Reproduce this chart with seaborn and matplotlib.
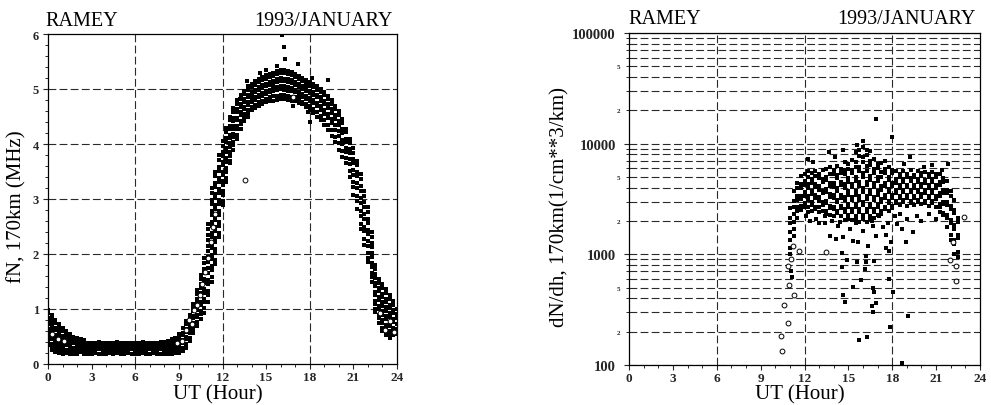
import numpy as np
import pandas as pd
import matplotlib
matplotlib.use("Agg")
import matplotlib.pyplot as plt
from matplotlib.ticker import FixedLocator, MultipleLocator, LogLocator, FuncFormatter
import seaborn as sns

sns.set_style("ticks")
plt.rcParams["font.family"] = ["Liberation Serif", "DejaVu Serif"]

# ---------------------------------------------------------------- text
station = "RAMEY"
period = "1993/JANUARY"
x_label = "UT (Hour)"
fn_label = "fN, 170km (MHz)"
dndh_label = "dN/dh, 170km(1/cm**3/km)"

# ---------------------------------------------------------------- axes
hour_ticks = [0, 3, 6, 9, 12, 15, 18, 21, 24]
grid_hours = [6, 12, 18]
fn_ticks = [0, 1, 2, 3, 4, 5, 6]
fn_grid = [1, 2, 3, 4, 5]
dndh_ticks = [100, 1000, 10000, 100000]

# ---------------------------------------------------------------- fN at 170 km (MHz), readings of the whole month per 15-minute slot
fn_hours = [
    0.00, 0.25, 0.50, 0.75, 1.00, 1.25, 1.50, 1.75, 2.00, 2.25, 2.50, 2.75,
    3.00, 3.25, 3.50, 3.75, 4.00, 4.25, 4.50, 4.75, 5.00, 5.25, 5.50, 5.75,
    6.00, 6.25, 6.50, 6.75, 7.00, 7.25, 7.50, 7.75, 8.00, 8.25, 8.50, 8.75,
    9.00, 9.25, 9.50, 9.75, 10.00, 10.25, 10.50, 10.75, 11.00, 11.25, 11.50, 11.75,
    12.00, 12.25, 12.50, 12.75, 13.00, 13.25, 13.50, 13.75, 14.00, 14.25, 14.50, 14.75,
    15.00, 15.25, 15.50, 15.75, 16.00, 16.25, 16.50, 16.75, 17.00, 17.25, 17.50, 17.75,
    18.00, 18.25, 18.50, 18.75, 19.00, 19.25, 19.50, 19.75, 20.00, 20.25, 20.50, 20.75,
    21.00, 21.25, 21.50, 21.75, 22.00, 22.25, 22.50, 22.75, 23.00, 23.25, 23.50, 23.75,
    24.00,
]
fn_values = [
    [0.98, 0.92, 0.84, 0.78, 0.72, 0.64, 0.59, 0.51, 0.47, 0.40, 0.34],
    [0.90, 0.82, 0.77, 0.69, 0.64, 0.56, 0.50, 0.45, 0.37, 0.32, 0.25],
    [0.80, 0.74, 0.66, 0.61, 0.53, 0.48, 0.40, 0.35, 0.27, 0.21],
    [0.72, 0.65, 0.60, 0.52, 0.45, 0.40, 0.32, 0.27, 0.20],
    [0.65, 0.60, 0.51, 0.46, 0.38, 0.33, 0.25, 0.19],
    [0.60, 0.52, 0.48, 0.40, 0.34, 0.26, 0.20],
    [0.55, 0.50, 0.42, 0.37, 0.29, 0.24, 0.19],
    [0.50, 0.43, 0.38, 0.30, 0.25, 0.19],
    [0.47, 0.42, 0.34, 0.29, 0.23, 0.19],
    [0.45, 0.38, 0.33, 0.26, 0.21],
    [0.43, 0.37, 0.30, 0.25, 0.19],
    [0.39, 0.33, 0.26, 0.19],
    [0.38, 0.32, 0.25, 0.19],
    [0.39, 0.33, 0.26, 0.20],
    [0.40, 0.33, 0.27, 0.19],
    [0.38, 0.31, 0.25, 0.19],
    [0.39, 0.32, 0.26, 0.19],
    [0.38, 0.33, 0.25, 0.20],
    [0.39, 0.32, 0.26, 0.19],
    [0.40, 0.34, 0.27, 0.20],
    [0.38, 0.31, 0.25, 0.19],
    [0.39, 0.33, 0.26, 0.19],
    [0.38, 0.32, 0.25, 0.20],
    [0.39, 0.33, 0.27, 0.19],
    [0.38, 0.31, 0.26, 0.19],
    [0.39, 0.32, 0.25, 0.19],
    [0.40, 0.33, 0.26, 0.20],
    [0.38, 0.32, 0.25, 0.19],
    [0.39, 0.33, 0.27, 0.19],
    [0.38, 0.31, 0.25, 0.20],
    [0.39, 0.33, 0.26, 0.19],
    [0.40, 0.34, 0.27, 0.19],
    [0.40, 0.33, 0.26, 0.19],
    [0.42, 0.36, 0.29, 0.23, 0.19],
    [0.45, 0.38, 0.32, 0.25, 0.19],
    [0.48, 0.42, 0.34, 0.28, 0.20],
    [0.55, 0.49, 0.41, 0.35, 0.27, 0.20],
    [0.65, 0.57, 0.52, 0.44, 0.38, 0.30, 0.23],
    [0.78, 0.72, 0.64, 0.58, 0.50, 0.45, 0.37, 0.30],
    [0.90, 0.84, 0.76, 0.70, 0.61, 0.56, 0.48, 0.41],
    [1.10, 1.02, 0.97, 0.88, 0.83, 0.75, 0.69, 0.61, 0.56],
    [1.35, 1.28, 1.19, 1.13, 1.04, 0.99, 0.90, 0.85, 0.76, 0.70],
    [1.62, 1.55, 1.45, 1.39, 1.29, 1.23, 1.13, 1.07, 0.97, 0.91, 0.82],
    [1.92, 1.84, 1.73, 1.66, 1.55, 1.48, 1.37, 1.30, 1.19, 1.12, 1.01, 0.93],
    [2.55, 2.46, 2.34, 2.26, 2.14, 2.06, 1.94, 1.86, 1.74, 1.65, 1.53, 1.45, 1.33, 1.25, 1.13],
    [3.20, 3.11, 2.99, 2.91, 2.79, 2.71, 2.59, 2.51, 2.39, 2.31, 2.19, 2.11, 1.99, 1.91, 1.79, 1.71, 1.59, 1.50],
    [3.50, 3.41, 3.29, 3.21, 3.09, 3.01, 2.89, 2.81, 2.69, 2.61, 2.49, 2.41, 2.29, 2.21, 2.09, 2.01, 1.90, 1.82],
    [3.80, 3.71, 3.59, 3.51, 3.39, 3.31, 3.19, 3.11, 2.99, 2.91, 2.79, 2.71, 2.59, 2.51, 2.39, 2.31],
    [4.05, 3.97, 3.86, 3.79, 3.68, 3.61, 3.50, 3.43, 3.32, 3.25, 3.14, 3.07, 2.97, 2.90],
    [4.30, 4.22, 4.11, 4.04, 3.93, 3.86, 3.75, 3.68, 3.57, 3.50, 3.39, 3.31],
    [4.50, 4.43, 4.33, 4.27, 4.17, 4.11, 4.01, 3.95, 3.85, 3.79, 3.70, 3.65],
    [4.65, 4.58, 4.48, 4.42, 4.33, 4.27, 4.18, 4.12, 4.03, 3.98, 3.90],
    [4.80, 4.73, 4.63, 4.58, 4.48, 4.43, 4.33, 4.27, 4.17, 4.10],
    [4.90, 4.83, 4.73, 4.68, 4.58, 4.52, 4.42, 4.36, 4.27],
    [4.97, 4.91, 4.82, 4.77, 4.68, 4.63, 4.54, 4.49, 4.41],
    [5.05, 4.99, 4.90, 4.85, 4.76, 4.71, 4.62, 4.57, 4.50],
    [5.10, 5.04, 4.95, 4.90, 4.81, 4.76, 4.67, 4.61],
    [5.14, 5.08, 4.99, 4.94, 4.85, 4.80, 4.71, 4.65],
    [5.18, 5.12, 5.03, 4.98, 4.89, 4.85, 4.76, 4.70],
    [5.22, 5.16, 5.07, 5.02, 4.93, 4.88, 4.79, 4.73],
    [5.25, 5.19, 5.10, 5.05, 4.96, 4.91, 4.82, 4.76],
    [5.28, 5.22, 5.13, 5.08, 4.99, 4.94, 4.85, 4.78],
    [5.30, 5.24, 5.15, 5.10, 5.01, 4.96, 4.87, 4.79],
    [5.33, 5.27, 5.18, 5.13, 5.04, 4.98, 4.88, 4.80],
    [5.35, 5.29, 5.20, 5.15, 5.06, 5.00, 4.90, 4.82],
    [5.35, 5.29, 5.19, 5.14, 5.05, 4.99, 4.89, 4.81],
    [5.33, 5.27, 5.18, 5.13, 5.03, 4.97, 4.87, 4.80],
    [5.31, 5.25, 5.16, 5.11, 5.01, 4.96, 4.86, 4.79],
    [5.28, 5.22, 5.13, 5.08, 4.99, 4.94, 4.85, 4.78],
    [5.24, 5.18, 5.09, 5.04, 4.95, 4.90, 4.81, 4.75],
    [5.20, 5.14, 5.05, 5.00, 4.91, 4.86, 4.77, 4.72],
    [5.16, 5.10, 5.01, 4.96, 4.87, 4.82, 4.73, 4.67],
    [5.12, 5.06, 4.97, 4.92, 4.83, 4.78, 4.69, 4.62],
    [5.09, 5.03, 4.94, 4.89, 4.80, 4.74, 4.64, 4.56],
    [5.05, 4.99, 4.90, 4.85, 4.75, 4.69, 4.58, 4.50],
    [5.00, 4.94, 4.85, 4.79, 4.69, 4.62, 4.51, 4.43],
    [4.95, 4.89, 4.79, 4.73, 4.62, 4.55, 4.44, 4.35],
    [4.88, 4.82, 4.72, 4.66, 4.55, 4.48, 4.35, 4.25],
    [4.80, 4.73, 4.63, 4.57, 4.46, 4.38, 4.25, 4.15],
    [4.70, 4.63, 4.53, 4.46, 4.35, 4.26, 4.13, 4.03],
    [4.60, 4.53, 4.42, 4.35, 4.23, 4.14, 4.01, 3.90],
    [4.45, 4.38, 4.27, 4.20, 4.08, 4.00, 3.87, 3.77],
    [4.28, 4.21, 4.10, 4.03, 3.92, 3.85, 3.74, 3.66],
    [4.10, 4.02, 3.91, 3.84, 3.72, 3.64, 3.51, 3.40],
    [3.92, 3.84, 3.73, 3.65, 3.53, 3.44, 3.31, 3.21, 3.08],
    [3.70, 3.62, 3.50, 3.42, 3.29, 3.20, 3.06, 2.96, 2.82],
    [3.45, 3.36, 3.24, 3.15, 3.02, 2.93, 2.79, 2.69, 2.54, 2.45],
    [3.15, 3.06, 2.94, 2.85, 2.72, 2.63, 2.50, 2.41, 2.27, 2.16],
    [2.85, 2.76, 2.64, 2.56, 2.44, 2.36, 2.23, 2.14, 2.01, 1.93, 1.85],
    [2.40, 2.31, 2.20, 2.13, 2.02, 1.95, 1.84, 1.77, 1.66, 1.59, 1.50],
    [1.80, 1.73, 1.63, 1.57, 1.47, 1.41, 1.31, 1.25, 1.15, 1.09, 1.00, 0.95],
    [1.55, 1.48, 1.38, 1.32, 1.22, 1.16, 1.06, 1.00, 0.90, 0.84, 0.75],
    [1.45, 1.38, 1.28, 1.22, 1.12, 1.06, 0.96, 0.90, 0.80, 0.74, 0.65, 0.60],
    [1.36, 1.29, 1.19, 1.13, 1.03, 0.97, 0.87, 0.81, 0.71, 0.65, 0.56, 0.52],
    [1.25, 1.18, 1.08, 1.02, 0.92, 0.86, 0.76, 0.70, 0.60, 0.55, 0.48],
    [1.15, 1.08, 0.98, 0.92, 0.82, 0.76, 0.66, 0.60, 0.52],
    [1.00, 0.91, 0.83, 0.72, 0.64, 0.55],
]

# isolated fN readings away from the main band
fn_extra_hours = [16.10, 16.20, 16.30, 15.73, 17.20, 18.14, 19.26, 13.67, 13.20, 16.87, 17.90, 18.00, 14.60, 15.00]
fn_extra_values = [5.98, 5.76, 5.55, 5.42, 5.45, 5.20, 5.16, 5.15, 4.82, 4.70, 4.58, 4.40, 5.30, 5.35]

# fN readings drawn as open symbols
fn_open_hours = [13.55, 16.87, 9.50, 9.70, 9.90, 10.05, 10.25, 10.45, 10.60, 10.80, 11.00, 11.20,
                 11.35, 11.50, 0.30, 0.70, 1.10, 23.20, 23.50, 23.80, 22.80, 9.20, 8.90]
fn_open_values = [3.35, 4.85, 0.62, 0.80, 0.72, 0.98, 1.08, 1.25, 1.45, 1.68, 1.92, 2.22,
                  2.50, 2.72, 0.55, 0.45, 0.42, 0.62, 0.78, 0.58, 0.92, 0.42, 0.38]

# ---------------------------------------------------------------- dN/dh at 170 km (1/cm**3/km), per 15-minute slot
dndh_hours = [
    11.00, 11.25, 11.50, 11.75, 12.00, 12.25, 12.50, 12.75, 13.00, 13.25, 13.50, 13.75,
    14.00, 14.25, 14.50, 14.75, 15.00, 15.25, 15.50, 15.75, 16.00, 16.25, 16.50, 16.75,
    17.00, 17.25, 17.50, 17.75, 18.00, 18.25, 18.50, 18.75, 19.00, 19.25, 19.50, 19.75,
    20.00, 20.25, 20.50, 20.75, 21.00, 21.25, 21.50, 21.75, 22.00, 22.25, 22.50,
]
dndh_values = [
    [2600, 2150, 1900, 1600, 1350, 1150, 1000],
    [3700, 3050, 2700, 2300, 1950, 1700, 1450],
    [4400, 4000, 3400, 3100, 2650, 2450, 2150],
    [5100, 4300, 3950, 3350, 3150, 2750, 2500],
    [5350, 4600, 4250, 3650, 3350, 2900, 2650],
    [5700, 5050, 4300, 3950, 3400, 3100, 2650, 2400],
    [5400, 4750, 4450, 3750, 3500, 2950, 2800, 2450],
    [5650, 5150, 4350, 4050, 3450, 3200, 2700, 2550],
    [5300, 4900, 4150, 3850, 3300, 3050, 2650, 2400],
    [5750, 4800, 4500, 3750, 3550, 2950, 2800, 2450],
    [5900, 5000, 4650, 3900, 3650, 3050, 2900, 2450, 2300],
    [6150, 5350, 4450, 4150, 3500, 3300, 2750, 2600, 2250],
    [5800, 5300, 4450, 4100, 3450, 3250, 2700, 2550, 2200],
    [6250, 5200, 4850, 4000, 3750, 3100, 2950, 2450, 2350],
    [5950, 5450, 4500, 4200, 3450, 3250, 2750, 2600, 2200],
    [6900, 5750, 5300, 4300, 4000, 3300, 3100, 2550, 2400, 2050],
    [6500, 5950, 4850, 4500, 3700, 3450, 2850, 2700, 2250, 2150],
    [7100, 5800, 5400, 4350, 4050, 3300, 3100, 2550, 2400, 2050],
    [8400, 6800, 6200, 4950, 4600, 3700, 3450, 2850, 2700, 2200, 2100],
    [8700, 7700, 6200, 5650, 4500, 4150, 3350, 3100, 2550, 2400, 1950],
    [9400, 7600, 6900, 5450, 5000, 3950, 3650, 2950, 2800, 2250, 2100],
    [8700, 7850, 6300, 5700, 4550, 4200, 3400, 3150, 2550, 2400, 1950],
    [8600, 7000, 6400, 5150, 4700, 3800, 3500, 2850, 2700, 2200, 2100],
    [7200, 5900, 5400, 4400, 4100, 3300, 3100, 2550, 2400, 2150],
    [6600, 6050, 4950, 4600, 3700, 3450, 2850, 2700, 2250],
    [6700, 5500, 5050, 4150, 3850, 3150, 2950, 2450, 2300],
    [5850, 5400, 4450, 4150, 3450, 3250, 2700, 2550],
    [6100, 5050, 4700, 3900, 3650, 3050, 2900, 2450],
    [5800, 5400, 4450, 4150, 3450, 3250, 2750, 2600],
    [5650, 4750, 4450, 3800, 3600, 3050, 2900],
    [5300, 5000, 4250, 4000, 3400, 3250, 2800],
    [5700, 4800, 4550, 3850, 3650, 3100, 2950],
    [5350, 5050, 4250, 4050, 3450, 3250, 2750],
    [5750, 4850, 4600, 3850, 3650, 3050, 2900],
    [5250, 4950, 4200, 4000, 3400, 3200, 2800],
    [5650, 4750, 4500, 3850, 3650, 3100, 2950],
    [5400, 5100, 4300, 4100, 3500, 3300, 2850],
    [5600, 4700, 4450, 3800, 3550, 3050, 2900],
    [5350, 5050, 4250, 4000, 3400, 3250, 2750],
    [5600, 4750, 4500, 3800, 3600, 3050, 2900],
    [5300, 5000, 4200, 3950, 3350, 3150, 2700],
    [5350, 4500, 4250, 3600, 3400, 2850, 2700, 2400],
    [4850, 4550, 3850, 3600, 3000, 2850, 2350, 2250],
    [4600, 3850, 3600, 2950, 2800, 2250, 2150, 1750],
    [3700, 3400, 2750, 2550, 2050, 1900, 1500, 1350],
    [3100, 2500, 2350, 1850, 1700, 1350, 1250, 1000],
    [2150, 1950, 1500, 1400, 1050, 950],
]

# dN/dh readings above the main band
dndh_high_hours = [16.87, 17.99, 16.00, 13.67, 14.63, 12.23, 21.79, 19.20, 20.75, 12.60, 14.10, 15.60, 17.50, 18.80, 20.20, 21.40]
dndh_high_values = [16700, 11500, 10600, 8400, 8700, 7300, 6500, 7500, 6430, 6800, 7600, 9800, 7000, 6600, 6200, 5800]

# dN/dh readings just under the main band
dndh_mid_hours = [12.80, 13.00, 13.40, 13.90, 14.30, 15.00, 15.50, 16.60, 17.10, 17.70, 18.20, 18.50, 19.00, 19.70, 20.00, 20.50, 21.00, 12.10, 12.40,
                  13.72, 14.18, 14.63, 15.32, 15.66, 16.35, 16.92, 17.60, 17.94, 18.93, 19.43, 15.09, 16.00, 16.69, 18.30, 18.65, 14.40, 13.37, 17.37]
dndh_mid_values = [2100, 1900, 2200, 2000, 1800, 2100, 1900, 2000, 2200, 1900, 2200, 2300, 2100, 2200, 2000, 2300, 2100, 2200, 2000,
                   1470, 1390, 1440, 1320, 1280, 1200, 1470, 1490, 1280, 1280, 1580, 1690, 1630, 1800, 1870, 1690, 1950, 1930, 1750]

# dN/dh readings well below the band
dndh_low_hours = [14.59, 14.93, 14.59, 15.60, 16.17, 16.20, 16.23, 16.75, 15.89, 15.32, 14.63, 14.75, 16.69, 16.74,
                  16.92, 16.64, 16.69, 15.73, 16.30, 17.79, 18.06, 17.88, 19.09, 18.68, 17.79, 17.60, 11.15, 11.09]
dndh_low_values = [1030, 890, 770, 850, 740, 860, 960, 870, 590, 510, 425, 370, 500, 460,
                   360, 340, 300, 168, 180, 600, 460, 220, 280, 104, 1070, 1150, 630, 710]

# dN/dh readings drawn as open symbols
dndh_open_hours = [10.47, 10.40, 10.88, 10.63, 11.30, 10.97, 10.88, 11.61, 13.49, 22.93, 21.95, 22.36, 22.36, 22.17, 11.05, 11.20]
dndh_open_values = [133, 183, 238, 350, 430, 527, 790, 1070, 1050, 2190, 890, 780, 580, 1290, 900, 1200]


def slot_table(hours, groups):
    rows = [(h, v) for h, vals in zip(hours, groups) for v in vals]
    return pd.DataFrame(rows, columns=["hour", "value"])


def pair_table(hours, values):
    return pd.DataFrame({"hour": hours, "value": values})


fn_main = pd.concat([slot_table(fn_hours, fn_values),
                     pair_table(fn_extra_hours, fn_extra_values)], ignore_index=True)
fn_open = pair_table(fn_open_hours, fn_open_values)
dndh_main = pd.concat([
    slot_table(dndh_hours, dndh_values),
    pair_table(dndh_high_hours, dndh_high_values),
    pair_table(dndh_mid_hours, dndh_mid_values),
    pair_table(dndh_low_hours, dndh_low_values),
], ignore_index=True)
dndh_open = pair_table(dndh_open_hours, dndh_open_values)

# ---------------------------------------------------------------- figure
W, H = 991, 406
fig = plt.figure(figsize=(W / 100, H / 100), dpi=100)
fig.patch.set_facecolor("white")


def box(l, t, r, b):
    return [l / W, 1 - b / H, (r - l) / W, (b - t) / H]


ax1 = fig.add_axes(box(48, 35, 397, 365))
ax2 = fig.add_axes(box(629, 34, 980, 366))

dash = (0, (7, 3))
grid_kw = dict(color="#2a2a2a", lw=0.8, linestyle=dash)
open_kw = dict(marker="o", s=12, facecolor="white", edgecolor="black", linewidth=0.7, legend=False, zorder=4)

for ax in (ax1, ax2):
    ax.set_facecolor("white")
    for sp in ax.spines.values():
        sp.set_visible(True)
        sp.set_linewidth(0.9)
        sp.set_color("black")
    ax.set_xlim(0, 24)
    ax.xaxis.set_major_locator(FixedLocator(hour_ticks))
    ax.xaxis.set_minor_locator(MultipleLocator(1))
    ax.tick_params(axis="both", which="major", direction="out", length=3.5, width=0.8, labelsize=9.5, pad=1.5)
    ax.tick_params(axis="both", which="minor", direction="out", length=2.5, width=0.7)
    for gx in grid_hours:
        ax.axvline(gx, zorder=0.5, **grid_kw)

# left panel: fN
sns.scatterplot(data=fn_main, x="hour", y="value", ax=ax1, marker="s", s=12.5, color="black",
                linewidth=0, legend=False, zorder=3)
sns.scatterplot(data=fn_open, x="hour", y="value", ax=ax1, **open_kw)
ax1.set_ylim(0, 6)
ax1.yaxis.set_major_locator(FixedLocator(fn_ticks))
ax1.yaxis.set_minor_locator(MultipleLocator(0.2))
ax1.tick_params(axis="y", which="major", labelsize=9, pad=3)
for gy in fn_grid:
    ax1.axhline(gy, zorder=0.5, **grid_kw)
ax1.set_xlabel("")
ax1.set_ylabel("")

# right panel: dN/dh on a log axis
ax2.set_yscale("log")
sns.scatterplot(data=dndh_main, x="hour", y="value", ax=ax2, marker="s", s=11, color="black",
                linewidth=0, legend=False, zorder=3)
sns.scatterplot(data=dndh_open, x="hour", y="value", ax=ax2, **open_kw)
ax2.set_ylim(dndh_ticks[0], dndh_ticks[-1])
ax2.yaxis.set_major_locator(FixedLocator(dndh_ticks))
ax2.yaxis.set_major_formatter(FuncFormatter(lambda v, p: f"{int(round(v))}"))
ax2.yaxis.set_minor_locator(LogLocator(base=10, subs=list(range(2, 10)), numticks=20))


def minor_label(v, pos):
    lead = int(round(v / 10 ** np.floor(np.log10(v) + 1e-9)))
    return str(lead) if lead in (2, 5) else ""


ax2.yaxis.set_minor_formatter(FuncFormatter(minor_label))
ax2.tick_params(axis="y", which="major", labelsize=10.5, pad=6)
ax2.tick_params(axis="y", which="minor", labelsize=5, pad=4)
ax2.yaxis.grid(True, which="both", **grid_kw)
ax2.set_axisbelow(True)
ax2.set_xlabel("")
ax2.set_ylabel("")

for ax in (ax1, ax2):
    for lab in ax.get_xticklabels() + ax.get_yticklabels() + ax.get_yticklabels(minor=True):
        lab.set_fontfamily("Liberation Serif")
        lab.set_fontweight("bold")

# titles and axis labels
txt = dict(family="Liberation Serif", fontsize=14.5, color="black")
fig.text(45 / W, 1 - 21 / H, station, ha="left", va="center", **txt)
fig.text(393 / W, 1 - 21 / H, period, ha="right", va="center", **txt)
fig.text(628 / W, 1 - 20 / H, station, ha="left", va="center", **txt)
fig.text(976 / W, 1 - 20 / H, period, ha="right", va="center", **txt)
lab_txt = dict(txt, fontsize=15)
fig.text(218 / W, 1 - 395 / H, x_label, ha="center", va="center", **lab_txt)
fig.text(800 / W, 1 - 395 / H, x_label, ha="center", va="center", **lab_txt)
fig.text(17 / W, 1 - 207 / H, fn_label, ha="center", va="center", rotation=90, **lab_txt)
fig.text(560 / W, 1 - 207 / H, dndh_label, ha="center", va="center", rotation=90, **lab_txt)

fig.savefig("out.png", dpi=100, facecolor="white")
